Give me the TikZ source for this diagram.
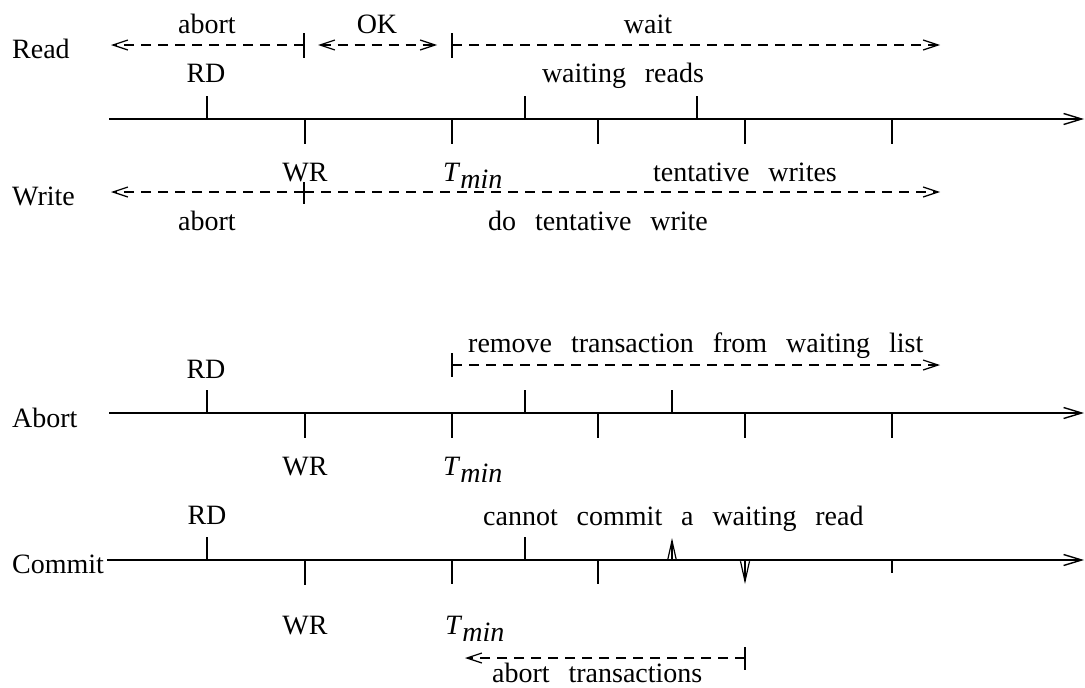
\documentclass[tikz,border=0pt]{standalone}
\usepackage{fontspec}
\setmainfont{Liberation Serif}[WordSpace=2.7]
\usetikzlibrary{arrows.meta}

\tikzset{
  stick/.tip={Straight Barb[length=15pt,width=10pt,line width=1.2pt]},
  lbl/.style={font=\fontsize{28}{34}\selectfont, inner sep=0pt, anchor=base},
  rowlbl/.style={lbl, anchor=base west},
  axisline/.style={line width=1.6pt,
    -{Straight Barb[length=18pt,width=11pt,line width=1.4pt]}},
  minortick/.style={line width=1.2pt},
  majortick/.style={line width=2.4pt},
  bar/.style={line width=1.2pt},
  span/.style={line width=1.2pt, dash pattern=on 10pt off 7pt},
  marker/.style={line width=1.2pt,
    -{Straight Barb[length=20pt,width=9pt,line width=1.2pt]}},
}

\newcommand{\tmin}{\textit{T}\raisebox{-7pt}{\textit{min}}}

\begin{document}
\begin{tikzpicture}[x=1pt,y=-1pt]
\useasboundingbox (0,0) rectangle (1085,688);

% ---------- Read / Write timeline ----------
\coordinate (rwS) at (109,119);
\coordinate (rwE) at (1084,119);
\draw[axisline] (rwS) -- (rwE);
\draw[majortick] (207,96) -- (207,119);
\draw[majortick] (305,119) -- (305,144);
\foreach \x in {525,697} \draw[minortick] (\x,96) -- (\x,119);
\foreach \x in {452,598,745,892} \draw[minortick] (\x,119) -- (\x,144);

\node[rowlbl] (readlbl) at (12,58) {Read};
\node[lbl] (rAbort) at (207,34) {abort};
\node[lbl] (rOK) at (377,34) {OK};
\node[lbl] (rWait) at (648,34) {wait};
\node[lbl] (rRD) at (206,82) {RD};
\node[lbl] (rWaiting) at (623,82) {waiting reads};

\draw[bar] (304,33) -- (304,58);
\draw[bar] (452,33) -- (452,58);
\coordinate (rA1) at (304,45); \coordinate (rA2) at (111,45);
\coordinate (rO1) at (318,45); \coordinate (rO2) at (437,45);
\coordinate (rW1) at (452,45); \coordinate (rW2) at (940,45);
\draw[span,-stick] (rA1) -- (rA2);
\draw[span,stick-stick] (rO1) -- (rO2);
\draw[span,-stick] (rW1) -- (rW2);

\node[lbl] (wWR) at (305,181) {WR};
\node[rowlbl] (wTmin) at (443,181) {\tmin};
\node[lbl] (wTent) at (745,181) {tentative writes};
\node[rowlbl] (writelbl) at (12,205) {Write};
\node[lbl] (wAbort) at (207,230) {abort};
\node[lbl] (wDo) at (598,230) {do tentative write};

\draw[bar] (304,182) -- (304,204);
\coordinate (wA1) at (304,192); \coordinate (wA2) at (111,192);
\coordinate (wD2) at (940,192);
\draw[span,-stick] (wA1) -- (wA2);
\draw[span,-stick] (wA1) -- (wD2);

% ---------- Abort timeline ----------
\coordinate (abS) at (109,413);
\coordinate (abE) at (1084,413);
\draw[axisline] (abS) -- (abE);
\draw[majortick] (207,390) -- (207,413);
\draw[majortick] (305,413) -- (305,438);
\foreach \x in {525,672} \draw[minortick] (\x,390) -- (\x,413);
\foreach \x in {452,598,745,892} \draw[minortick] (\x,413) -- (\x,438);

\node[rowlbl] (remove) at (468,352) {remove transaction from waiting list};
\node[lbl] (aRD) at (206,378) {RD};
\node[rowlbl] (abortlbl) at (12,427) {Abort};
\node[lbl] (aWR) at (305,475) {WR};
\node[rowlbl] (aTmin) at (443,475) {\tmin};

\draw[bar] (452,353) -- (452,377);
\coordinate (aR1) at (452,365); \coordinate (aR2) at (940,365);
\draw[span,-stick] (aR1) -- (aR2);

% ---------- Commit timeline ----------
\coordinate (cmS) at (107,560);
\coordinate (cmE) at (1084,560);
\draw[axisline] (cmS) -- (cmE);
\draw[majortick] (207,537) -- (207,560);
\draw[majortick] (305,560) -- (305,585);
\draw[minortick] (525,537) -- (525,560);
\foreach \x in {452,598} \draw[minortick] (\x,560) -- (\x,584);
\draw[minortick] (892,560) -- (892,573);

\coordinate (cUp1) at (672,560); \coordinate (cUp2) at (672,538);
\coordinate (cDn1) at (745,560); \coordinate (cDn2) at (745,584);
\draw[marker] (cUp1) -- (cUp2);
\draw[marker] (cDn1) -- (cDn2);

\node[lbl] (cRD) at (207,524) {RD};
\node[rowlbl] (cannot) at (483,525) {cannot commit a waiting read};
\node[rowlbl] (commitlbl) at (12,573) {Commit};
\node[lbl] (cWR) at (305,634) {WR};
\node[rowlbl] (cTmin) at (445,634) {\tmin};
\node[rowlbl] (cAbortT) at (492,682) {abort transactions};

\draw[bar] (745,647) -- (745,670);
\coordinate (cT1) at (745,658); \coordinate (cT2) at (465,658);
\draw[span,-stick] (cT1) -- (cT2);
\end{tikzpicture}
\end{document}
